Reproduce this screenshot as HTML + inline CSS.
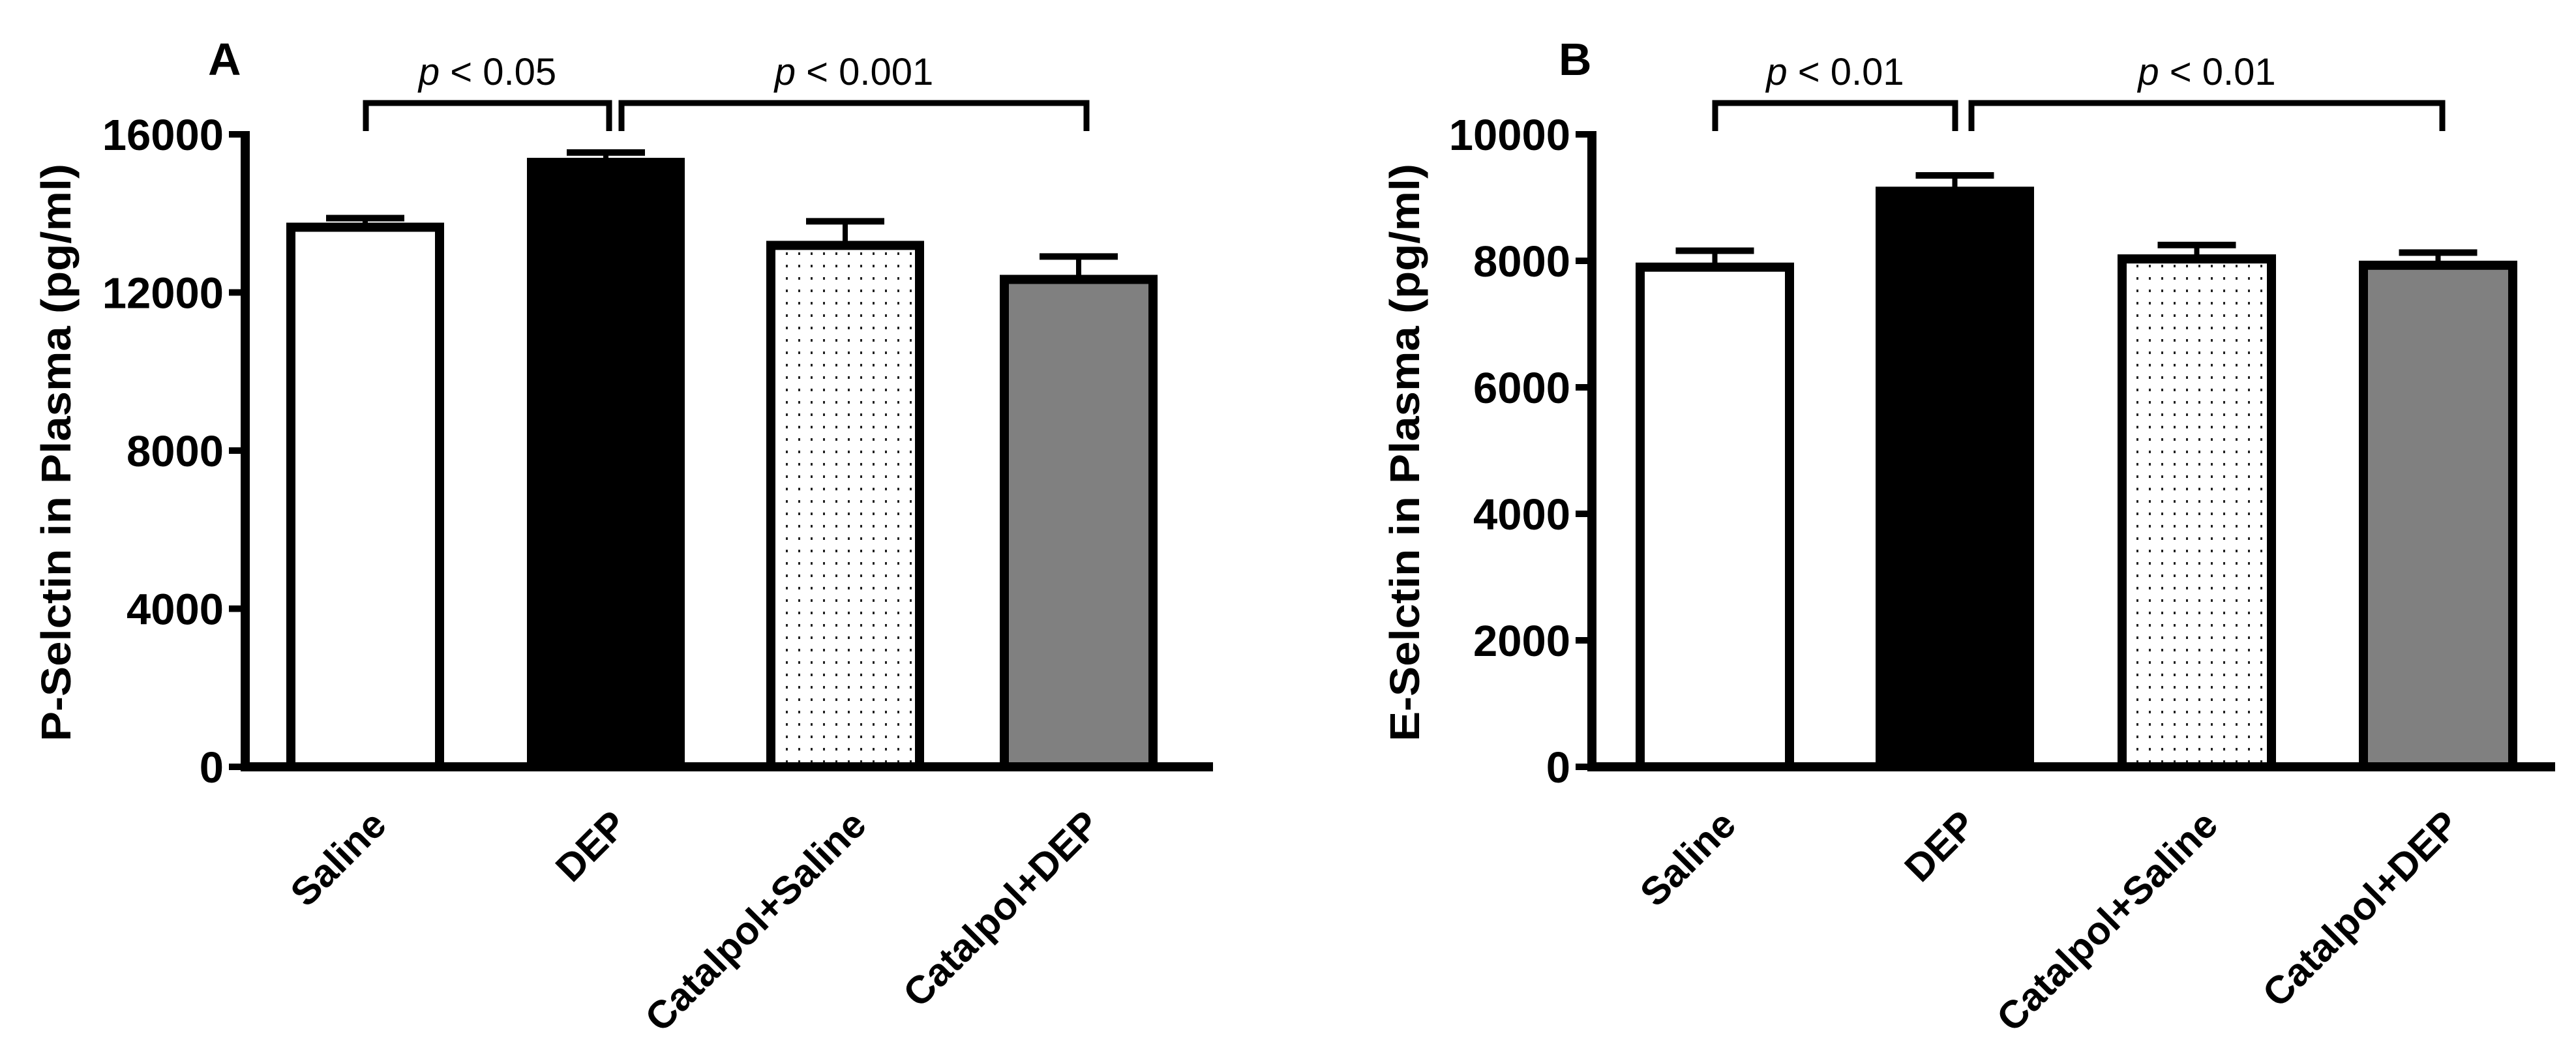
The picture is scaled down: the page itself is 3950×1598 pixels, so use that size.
<!DOCTYPE html>
<html><head><meta charset="utf-8"><style>
html,body{margin:0;padding:0;background:#fff;}
svg{display:block;font-family:"Liberation Sans",Arial,sans-serif;}
</style></head><body>
<svg id="fig" width="3950" height="1598" viewBox="0 0 3950 1598" xmlns="http://www.w3.org/2000/svg">
<defs>
<pattern id="dots" width="19" height="19" patternUnits="userSpaceOnUse">
<rect width="19" height="19" fill="#fff"/><rect x="8" y="7" width="3" height="4" fill="#222"/>
</pattern>
</defs>
</svg>
<script>
const categories = ["Saline","DEP","Catalpol+Saline","Catalpol+DEP"];
const pMeans = [13650, 15290, 13190, 12330];
const pErrTops = [13880, 15540, 13800, 12910];
const pTicks = [0, 4000, 8000, 12000, 16000];
const eMeans = [7900, 9100, 8030, 7930];
const eErrTops = [8160, 9350, 8250, 8130];
const eTicks = [0, 2000, 4000, 6000, 8000, 10000];
const pSig = ["p < 0.05", "p < 0.001"];
const eSig = ["p < 0.01", "p < 0.01"];

const svg = document.getElementById('fig');
const NS = 'http://www.w3.org/2000/svg';
function mk(tag, attrs, parent){
  const el = document.createElementNS(NS, tag);
  for (const k in attrs) el.setAttribute(k, attrs[k]);
  (parent||svg).appendChild(el);
  return el;
}
const fills = ['#fff', '#000', 'url(#dots)', '#808080'];

function panel(cfg){
  const g = mk('g', {});
  
  
  const y0 = 1176, yTop = 206;
  const yScale = v => y0 - (v / cfg.max) * (y0 - yTop);
  cfg.means.forEach((v, i) => {
    const x = cfg.barX[i], w = cfg.barW;
    const cx = x + w/2;
    const eb = mk('line', {x1:cx, x2:cx, y1:yScale(v), y2:yScale(cfg.errs[i]), stroke:'#000','stroke-width':8}, g);
    
    
    const cap = mk('line', {x1:cx-60, x2:cx+60, y1:yScale(cfg.errs[i]), y2:yScale(cfg.errs[i]), stroke:'#000','stroke-width':10}, g);
    
    
    const r = mk('rect', {x:x+7, y:yScale(v), width:w-14, height:y0-yScale(v), fill:fills[i], stroke:'#000','stroke-width':14}, g);
    
    
    const ax = cx + 5, ay = 1238;
    const t = mk('text', {x:ax, y:ay, 'text-anchor':'end', 'font-size':60, 'font-weight':'bold', transform:`rotate(-45 ${ax} ${ay})`, 'dominant-baseline':'hanging'}, g);
    t.textContent = categories[i];
    
    
  });
  const ya = mk('line', {x1:cfg.axX, x2:cfg.axX, y1:yTop-5, y2:y0+7, stroke:'#000','stroke-width':14}, g);
  
  
  const xa = mk('line', {x1:cfg.axX-7, x2:cfg.axEnd, y1:y0, y2:y0, stroke:'#000','stroke-width':14}, g);
  
  
  cfg.ticks.forEach(v => {
    const yy = yScale(v);
    const tk = mk('line', {x1:cfg.axX-25, x2:cfg.axX, y1:yy, y2:yy, stroke:'#000','stroke-width':10}, g);
    
    
    const tl = mk('text', {x:cfg.axX-33, y:yy+24, 'text-anchor':'end', 'font-size':67, 'font-weight':'bold'}, g);
    tl.textContent = v;
    
    
  });
  const yt = mk('text', {x:cfg.titleX, y:694, 'text-anchor':'middle', 'font-size':64, 'font-weight':'bold', textLength:886, lengthAdjust:'spacingAndGlyphs', transform:`rotate(-90 ${cfg.titleX} 694)`}, g);
  yt.textContent = cfg.title;
  
  
  const pl = mk('text', {x:cfg.letterX, y:115, 'font-size':70, 'font-weight':'bold'}, g);
  pl.textContent = cfg.letter;
  
  
  cfg.brackets.forEach((b, i) => {
    const br = mk('polyline', {points:`${b[0]},201 ${b[0]},158 ${b[1]},158 ${b[1]},201`, fill:'none', stroke:'#000','stroke-width':9}, g);
    
    
    const cx = (b[0]+b[1])/2;
    const st = mk('text', {x:cx, y:130, 'text-anchor':'middle', 'font-size':58}, g);
    
    
    const it = mk('tspan', {'font-style':'italic'}, st);
    it.textContent = 'p';
    const rest = mk('tspan', {}, st);
    rest.textContent = cfg.sig[i].slice(1);
  });
}

panel({name:'panel-a-p-selectin', means:pMeans, errs:pErrTops, ticks:pTicks, max:16000,
  barX:[439,808,1175,1533], barW:242, axX:376, axEnd:1860, titleX:108,
  title:'P-Selctin in Plasma (pg/ml)', letter:'A', letterX:319,
  brackets:[[561,934],[953,1666]], sig:pSig});
panel({name:'panel-b-e-selectin', means:eMeans, errs:eErrTops, ticks:eTicks, max:10000,
  barX:[2508,2876,3247,3617], barW:243, axX:2441, axEnd:3918, titleX:2176,
  title:'E-Selctin in Plasma (pg/ml)', letter:'B', letterX:2390,
  brackets:[[2630,2998],[3023,3745]], sig:eSig});
</script>
</body></html>
